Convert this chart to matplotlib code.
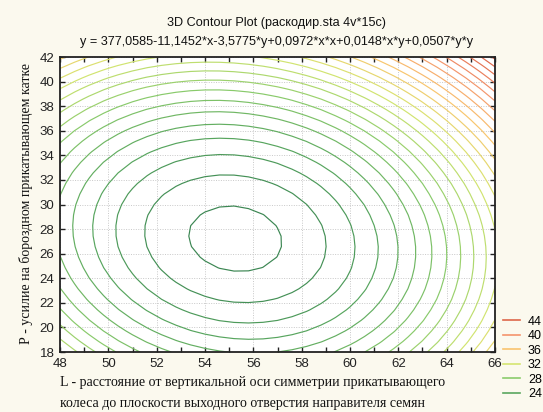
import numpy as np
import matplotlib
matplotlib.use("Agg")
import matplotlib.pyplot as plt
from matplotlib.colors import LinearSegmentedColormap
from matplotlib.lines import Line2D
from matplotlib.ticker import MultipleLocator

# Model coefficients (from chart subtitle): y = b0 + b1*x + b2*y + b11*x*x + b12*x*y + b22*y*y
coef_names = ["b0", "b1", "b2", "b11", "b12", "b22"]
coef_values = [377.0585, -11.1452, -3.5775, 0.0972, 0.0148, 0.0507]

x_ticks = [48, 50, 52, 54, 56, 58, 60, 62, 64, 66]
y_ticks = [18, 20, 22, 24, 26, 28, 30, 32, 34, 36, 38, 40, 42]
contour_levels = [20.8, 21.8, 22.8, 23.8, 24.8, 25.8, 26.8, 27.8, 28.8, 29.8,
                  30.8, 31.8, 32.8, 33.8, 34.8, 35.8, 36.8, 37.8, 38.8, 39.8,
                  40.8, 41.8, 42.8, 43.8, 44.8]
legend_levels = [44, 40, 36, 32, 28, 24]

title1 = "3D Contour Plot (раскодир.sta 4v*15c)"
title2 = "y = 377,0585-11,1452*x-3,5775*y+0,0972*x*x+0,0148*x*y+0,0507*y*y"
xlabel1 = "L - расстояние от вертикальной оси симметрии прикатывающего"
xlabel2 = "колеса до плоскости выходного отверстия направителя семян"
ylabel = "Р - усилие на бороздном прикатывающем катке"

bg = "#fbf9ee"
cmap = LinearSegmentedColormap.from_list(
    "stat",
    [(0.0, "#3b8652"), (0.13, "#58a65e"), (0.3, "#8ccc6c"), (0.47, "#d6e670"),
     (0.63, "#f9c56e"), (0.8, "#f4946c"), (0.96, "#df6a4c"), (1.0, "#d85a42")])

fig = plt.figure(figsize=(5.43, 4.12), dpi=100, facecolor=bg)
ax = fig.add_axes([0.1105, 0.1456, 0.8011, 0.716])
ax.set_facecolor("white")

xs = np.linspace(x_ticks[0], x_ticks[-1], 31)
ys = np.linspace(y_ticks[0], y_ticks[-1], 29)
X, Y = np.meshgrid(xs, ys)
b0, b1, b2, b11, b12, b22 = coef_values
Z = b0 + b1 * X + b2 * Y + b11 * X * X + b12 * X * Y + b22 * Y * Y

norm = plt.Normalize(contour_levels[0], contour_levels[-1])
ax.contour(X, Y, Z, levels=contour_levels, cmap=cmap, norm=norm, linewidths=0.85)

ax.set_xlim(x_ticks[0], x_ticks[-1])
ax.set_ylim(y_ticks[0], y_ticks[-1])
ax.set_xticks(x_ticks)
ax.set_yticks(y_ticks)
ax.xaxis.set_minor_locator(MultipleLocator(1))
ax.grid(True, which="major", color="#c8c8c8", linestyle=(0, (1, 1.5)), linewidth=0.7)
ax.set_axisbelow(True)
ax.tick_params(which="both", direction="in", length=3.5, width=1, labelsize=9.5,
               colors="#222222", top=True, right=True, pad=4)
for lab in ax.get_xticklabels() + ax.get_yticklabels():
    lab.set_family("Liberation Sans")
for sp in ax.spines.values():
    sp.set_color("#222222")
    sp.set_linewidth(1.3)

fig.text(0.51, 0.945, title1, ha="center", va="center", fontsize=9.1, family="Liberation Sans", color="#111111")
fig.text(0.51, 0.899, title2, ha="center", va="center", fontsize=9.1, family="Liberation Sans", color="#111111")
fig.text(0.1105, 0.072, xlabel1, ha="left", va="center", fontsize=10, family="Liberation Serif", color="#111111")
fig.text(0.1105, 0.021, xlabel2, ha="left", va="center", fontsize=10, family="Liberation Serif", color="#111111")
fig.text(0.047, 0.505, ylabel, ha="center", va="center", rotation=90, fontsize=10, family="Liberation Serif", color="#111111")

handles = [Line2D([0], [0], color=cmap(norm(v)), lw=1.2) for v in legend_levels]
leg = fig.legend(handles, [str(v) for v in legend_levels], loc="upper left",
                 bbox_to_anchor=(0.926, 0.234), frameon=False, fontsize=9,
                 handlelength=1.4, handletextpad=0.6, labelspacing=0.2,
                 borderpad=0.0, borderaxespad=0.0)
for t in leg.get_texts():
    t.set_family("Liberation Sans")

fig.savefig("out.png", dpi=100, facecolor=bg)
